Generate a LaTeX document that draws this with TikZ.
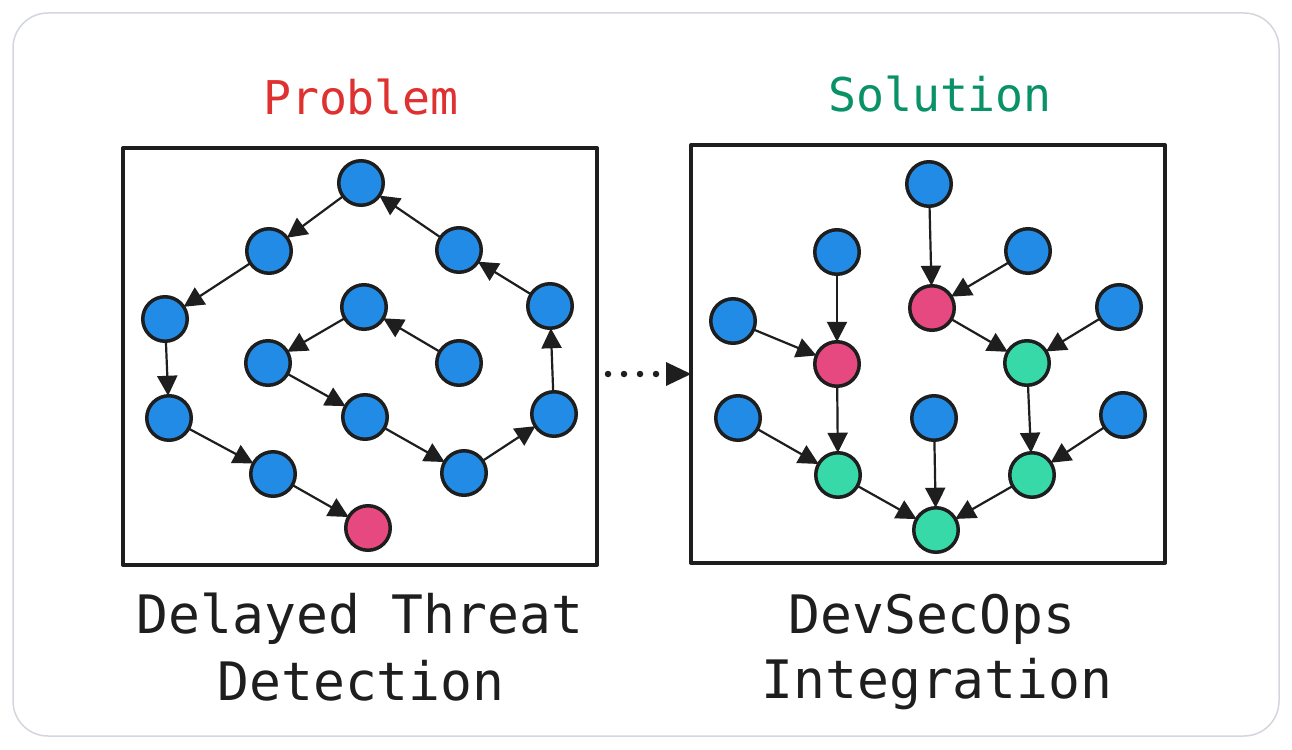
\documentclass[tikz,border=0pt]{standalone}
\usepackage{fontspec}
\usetikzlibrary{arrows.meta}
\newfontfamily\monofnt{DejaVu Sans Mono}
\definecolor{ink}{HTML}{1E1E1E}
\definecolor{nblue}{HTML}{228BE6}
\definecolor{npink}{HTML}{E64980}
\definecolor{ngreen}{HTML}{38D9A9}
\definecolor{tred}{HTML}{E03131}
\definecolor{tgreen}{HTML}{099268}
\definecolor{framegray}{HTML}{D3D7DD}
\tikzset{
  nd/.style={circle,draw=ink,line width=3.5pt,minimum size=44.5pt,inner sep=0pt,outer sep=0pt},
  bl/.style={nd,fill=nblue},
  pk/.style={nd,fill=npink},
  gr/.style={nd,fill=ngreen},
  conn/.style={draw=ink,line width=2.2pt,arrows={-Triangle[length=20pt,width=20pt]}},
  panel/.style={draw=ink,line width=4pt,line join=round},
  title/.style={font=\monofnt\fontsize{46.5}{56}\selectfont,anchor=base},
  label/.style={font=\monofnt\fontsize{53}{64}\selectfont,anchor=base,text=ink},
}
\begin{document}
\begin{tikzpicture}[x=1pt,y=-1pt]
\useasboundingbox (0,0) rectangle (1292,749);
\fill[white] (0,0) rectangle (1292,749);
\draw[framegray,line width=1.5pt,rounded corners=35pt] (13,13) rectangle (1279,736);

% titles
\node[title,text=tred] (tp) at (361,115) {Problem};
\node[title,text=tgreen] (ts) at (940,112) {Solution};

% panels
\draw[panel] (123,148) rectangle (597,565);
\draw[panel] (691,145) rectangle (1165,563);
\coordinate (pl) at (597,374);
\coordinate (pr) at (691,374);

% left graph
\node[bl] (L1) at (361,183) {};
\node[bl] (L2) at (269,251) {};
\node[bl] (L3) at (165,319) {};
\node[bl] (L4) at (169,418) {};
\node[bl] (L5) at (273,474) {};
\node[pk] (L6) at (368,528) {};
\node[bl] (L7) at (364,307) {};
\node[bl] (L8) at (268,363) {};
\node[bl] (L9) at (365,417) {};
\node[bl] (L10) at (464,473) {};
\node[bl] (L11) at (554,414) {};
\node[bl] (L12) at (550,306) {};
\node[bl] (L13) at (459,250) {};
\node[bl] (L14) at (459,363) {};

\draw[conn] (L1) -- (L2);
\draw[conn] (L2) -- (L3);
\draw[conn] (L3) -- (L4);
\draw[conn] (L4) -- (L5);
\draw[conn] (L5) -- (L6);
\draw[conn] (L14) -- (L7);
\draw[conn] (L7) -- (L8);
\draw[conn] (L8) -- (L9);
\draw[conn] (L9) -- (L10);
\draw[conn] (L10) -- (L11);
\draw[conn] (L11) -- (L12);
\draw[conn] (L12) -- (L13);
\draw[conn] (L13) -- (L1);

% right graph
\node[bl] (R1) at (929,184) {};
\node[bl] (R2) at (837,252) {};
\node[bl] (R3) at (1028,251) {};
\node[pk] (R4) at (932,308) {};
\node[bl] (R5) at (733,321) {};
\node[pk] (R6) at (837,364) {};
\node[gr] (R7) at (1027,363) {};
\node[bl] (R8) at (1119,307) {};
\node[bl] (R9) at (738,418) {};
\node[bl] (R10) at (934,418) {};
\node[bl] (R11) at (1123,415) {};
\node[gr] (R12) at (838,475) {};
\node[gr] (R13) at (1032,475) {};
\node[gr] (R14) at (936,530) {};

\draw[conn] (R1) -- (R4);
\draw[conn] (R3) -- (R4);
\draw[conn] (R2) -- (R6);
\draw[conn] (R5) -- (R6);
\draw[conn] (R4) -- (R7);
\draw[conn] (R8) -- (R7);
\draw[conn] (R6) -- (R12);
\draw[conn] (R9) -- (R12);
\draw[conn] (R7) -- (R13);
\draw[conn] (R11) -- (R13);
\draw[conn] (R12) -- (R14);
\draw[conn] (R10) -- (R14);
\draw[conn] (R13) -- (R14);

% dotted connector
\draw[draw=ink,line width=6.5pt,line cap=round,dash pattern=on 0pt off 16pt,arrows={-Triangle[length=25pt,width=24pt,line width=0pt,round]}]
  ([xshift=11pt]pl) -- (pr);

% bottom labels
\node[label] (b1) at (360,633) {Delayed Threat};
\node[label] (b2) at (361,700) {Detection};
\node[label] (b3) at (932,633) {DevSecOps};
\node[label] (b4) at (937,698) {Integration};
\end{tikzpicture}
\end{document}
